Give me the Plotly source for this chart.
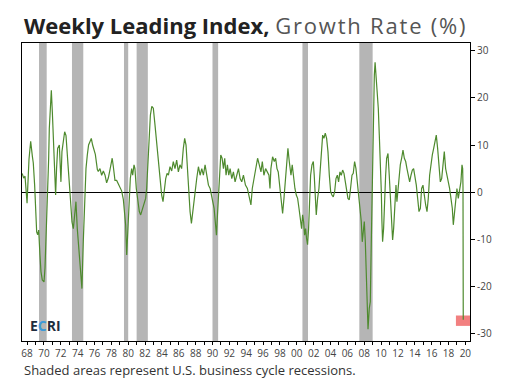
import plotly.graph_objects as go

# ---- data ----
years = [
    1967.92, 1968.1, 1968.26, 1968.4, 1968.5, 1968.73, 1968.93, 1969.13, 1969.24, 1969.4,
    1969.52, 1969.64, 1969.76, 1969.88, 1970.03, 1970.15, 1970.31, 1970.51, 1970.63, 1970.75,
    1970.9, 1971.06, 1971.14, 1971.3, 1971.38, 1971.5, 1971.62, 1971.77, 1971.89, 1972.0,
    1972.13, 1972.33, 1972.4, 1972.52, 1972.64, 1972.8, 1972.96, 1973.12, 1973.28, 1973.39,
    1973.59, 1973.71, 1973.83, 1973.99, 1974.18, 1974.3, 1974.46, 1974.62, 1974.78, 1974.94,
    1975.01, 1975.17, 1975.33, 1975.49, 1975.65, 1975.8, 1975.96, 1976.12, 1976.28, 1976.44,
    1976.6, 1976.84, 1976.95, 1977.15, 1977.35, 1977.55, 1977.75, 1977.94, 1978.14, 1978.34,
    1978.6, 1978.73, 1978.93, 1979.13, 1979.33, 1979.53, 1979.72, 1979.92, 1980.04, 1980.2,
    1980.32, 1980.44, 1980.6, 1980.75, 1980.91, 1981.03, 1981.19, 1981.3, 1981.46, 1981.58,
    1981.7, 1981.82, 1981.98, 1982.1, 1982.25, 1982.41, 1982.57, 1982.69, 1982.81, 1982.97,
    1983.13, 1983.3, 1983.48, 1983.68, 1983.88, 1984.08, 1984.32, 1984.47, 1984.63, 1984.79,
    1984.95, 1985.11, 1985.27, 1985.46, 1985.66, 1985.85, 1986.05, 1986.25, 1986.45, 1986.64,
    1986.84, 1987.04, 1987.2, 1987.36, 1987.52, 1987.68, 1987.84, 1988.0, 1988.15, 1988.31,
    1988.47, 1988.63, 1988.83, 1989.03, 1989.23, 1989.42, 1989.62, 1989.82, 1990.02, 1990.22,
    1990.41, 1990.53, 1990.69, 1990.85, 1990.97, 1991.09, 1991.2, 1991.32, 1991.48, 1991.64,
    1991.8, 1991.95, 1992.11, 1992.27, 1992.43, 1992.59, 1992.79, 1992.98, 1993.18, 1993.38,
    1993.58, 1993.78, 1993.97, 1994.17, 1994.41, 1994.64, 1994.8, 1994.94, 1995.06, 1995.22,
    1995.46, 1995.65, 1995.85, 1996.05, 1996.25, 1996.41, 1996.6, 1996.8, 1997.0, 1997.2,
    1997.32, 1997.43, 1997.63, 1997.83, 1997.99, 1998.15, 1998.3, 1998.5, 1998.66, 1998.82,
    1998.98, 1999.13, 1999.29, 1999.45, 1999.61, 1999.81, 1999.96, 2000.12, 2000.28, 2000.44,
    2000.6, 2000.76, 2000.91, 2001.07, 2001.19, 2001.31, 2001.43, 2001.55, 2001.66, 2001.78,
    2001.9, 2002.02, 2002.14, 2002.3, 2002.46, 2002.57, 2002.69, 2002.81, 2002.97, 2003.13,
    2003.29, 2003.45, 2003.57, 2003.72, 2003.88, 2004.04, 2004.2, 2004.36, 2004.52, 2004.67,
    2004.83, 2004.99, 2005.15, 2005.31, 2005.46, 2005.62, 2005.78, 2005.94, 2006.1, 2006.26,
    2006.41, 2006.57, 2006.73, 2006.89, 2007.05, 2007.2, 2007.36, 2007.52, 2007.68, 2007.84,
    2008.0, 2008.15, 2008.27, 2008.39, 2008.51, 2008.63, 2008.75, 2008.86, 2008.95, 2009.1,
    2009.22, 2009.34, 2009.46, 2009.58, 2009.7, 2009.79, 2009.93, 2010.05, 2010.17, 2010.29,
    2010.41, 2010.53, 2010.6, 2010.68, 2010.8, 2010.92, 2011.04, 2011.16, 2011.32, 2011.47,
    2011.63, 2011.75, 2011.87, 2011.99, 2012.11, 2012.27, 2012.38, 2012.5, 2012.62, 2012.78,
    2012.94, 2013.1, 2013.26, 2013.42, 2013.57, 2013.73, 2013.89, 2014.05, 2014.21, 2014.36,
    2014.52, 2014.68, 2014.84, 2015.0, 2015.16, 2015.31, 2015.47, 2015.63, 2015.79, 2015.95,
    2016.1, 2016.26, 2016.42, 2016.58, 2016.74, 2016.9, 2017.05, 2017.21, 2017.37, 2017.53,
    2017.69, 2017.84, 2018.0, 2018.16, 2018.32, 2018.48, 2018.63, 2018.79, 2018.95, 2019.07,
    2019.19, 2019.35, 2019.5, 2019.66, 2019.82, 2019.97, 2020.1, 2020.18, 2020.22, 2020.25,
]
growth = [
    4.0, 3.0, 3.4, 0.8, -2.3, 7.0, 10.8, 7.6, 6.2, 1.5,
    -4.8, -8.4, -9.0, -8.0, -13.3, -16.8, -18.6, -19.0, -16.0, -10.5,
    0.0, 7.0, 13.5, 17.8, 21.6, 17.0, 10.7, 3.6, -0.6, 5.0,
    9.3, 10.0, 5.0, 2.2, 8.6, 11.4, 12.8, 12.0, 8.6, 5.0,
    0.0, -4.2, -6.3, -7.7, -3.4, -2.0, -7.7, -11.9, -16.0, -19.0,
    -20.4, -10.5, -2.0, 5.0, 7.9, 10.0, 10.7, 11.4, 10.0, 9.0,
    8.0, 4.8, 4.4, 5.0, 3.6, 4.5, 3.6, 2.0, 3.0, 4.8,
    7.2, 5.5, 2.5, 2.5, 1.8, 1.0, 0.3, -1.5, -4.1, -7.0,
    -13.3, -7.7, 0.0, 2.9, 5.0, 3.6, 5.8, 5.0, 0.8, -1.3,
    -3.4, -4.1, -4.8, -4.1, -3.4, -2.7, -1.3, 0.8, 5.0, 12.1,
    16.3, 18.2, 17.8, 14.2, 10.0, 5.8, 1.5, -0.6, -2.0, 0.8,
    2.9, 4.0, 3.6, 5.4, 4.5, 6.5, 5.0, 6.8, 4.3, 5.8,
    5.0, 9.3, 11.4, 10.0, 5.0, 0.1, -4.1, -6.6, -4.1, -1.3,
    0.8, 2.9, 5.4, 3.6, 5.0, 3.6, 5.8, 3.6, 1.5, 0.8,
    -0.6, -2.0, -3.4, -6.2, -9.1, -4.8, -0.6, 3.6, 7.9, 7.2,
    5.0, 7.2, 3.6, 5.8, 3.6, 5.0, 2.9, 4.3, 2.2, 3.6,
    5.0, 2.9, 2.2, 3.6, 1.5, 0.8, -0.5, -2.0, -2.7, 0.8,
    3.6, 5.0, 7.2, 5.8, 4.3, 6.5, 3.6, 5.0, 4.3, 3.6,
    0.8, 5.0, 7.5, 6.5, 7.2, 5.0, 4.3, 0.8, -2.0, -4.5,
    -1.3, 2.2, 5.8, 9.3, 6.5, 3.6, 5.8, 2.9, 0.8, -0.6,
    -1.3, -3.4, -5.5, -7.7, -4.8, -6.2, -9.1, -7.7, -9.8, -11.1,
    -7.7, -1.3, 3.6, 5.8, 6.5, 3.6, -0.6, -4.8, -1.3, 0.8,
    5.0, 10.7, 12.1, 11.4, 12.5, 11.4, 8.6, 3.6, 0.1, -0.6,
    -1.0, 0.1, 2.9, 3.6, 2.2, 4.3, 3.6, 4.7, 4.0, 2.2,
    0.8, -1.3, -1.6, 1.5, 3.6, 4.0, 6.5, 5.0, 2.2, -0.6,
    -2.7, -6.2, -10.5, -7.7, -6.2, -10.5, -17.5, -24.6, -29.0, -24.6,
    -23.2, -10.5, 3.6, 17.8, 24.8, 27.5, 24.1, 22.0, 17.8, 12.1,
    7.2, 0.1, -6.2, -10.5, -7.7, -0.6, 3.6, 7.2, 8.2, 3.6,
    -2.0, -7.7, -10.1, -7.7, -3.4, 1.5, -2.0, 0.8, 3.6, 5.8,
    7.2, 8.9, 7.2, 6.5, 5.0, 3.6, 2.2, 3.6, 4.7, 5.0,
    3.6, 1.5, -1.3, -4.1, -3.4, 0.8, 1.5, -1.3, -2.7, -4.1,
    -1.3, 3.6, 6.5, 7.9, 9.3, 10.7, 12.1, 9.3, 5.0, 2.2,
    2.9, 5.8, 8.6, 5.0, 3.6, 2.2, 0.8, -1.3, -3.4, -6.9,
    -4.8, -0.6, 0.8, -1.3, 0.1, 2.2, 5.8, 5.0, 1.0, -27.0,
]

recession_start = [1969.92, 1973.83, 1980.0, 1981.5, 1990.5, 2001.17, 2007.92]
recession_end = [1970.83, 1975.17, 1980.5, 1982.83, 1991.17, 2001.83, 2009.5]

tick_years = list(range(1968, 2021))
tick_labels = [f"{y % 100:02d}" if y % 2 == 0 else "" for y in tick_years]

y_ticks = [30, 20, 10, 0, -10, -20, -30]
y_tick_labels = ["30", "20", "10", "0", "-10", "-20", "-30"]

latest_box_x = [2019.38, 2021.05]
latest_box_y = [-26.1, -28.3]

X_RANGE = [1967.9, 2021.05]
Y_RANGE = [-31.5, 31.6]

FONT = "Open Sans, DejaVu Sans, sans-serif"

fig = go.Figure()
fig.add_trace(go.Scatter(
    x=years, y=growth, mode="lines",
    line=dict(color="#4e8a2e", width=1.2),
    hoverinfo="skip", showlegend=False,
))

shapes = []
for s, e in zip(recession_start, recession_end):
    shapes.append(dict(type="rect", xref="x", yref="paper", x0=s, x1=e, y0=0, y1=1,
                       fillcolor="#b5b5b5", line=dict(width=0), layer="below"))
shapes.append(dict(type="rect", xref="x", yref="y",
                   x0=latest_box_x[0], x1=latest_box_x[1],
                   y0=latest_box_y[0], y1=latest_box_y[1],
                   fillcolor="#f28080", line=dict(width=0), layer="below"))

annotations = [
    dict(text="<b>Weekly Leading Index,</b> <span style='color:#555555;letter-spacing:1.8px'>Growth Rate (%)</span>",
         xref="paper", yref="paper", x=0, y=1, xanchor="left", yanchor="bottom",
         yshift=1, showarrow=False,
         font=dict(family=FONT, size=22, color="#222222")),
    dict(text="Shaded areas represent U.S. business cycle recessions.",
         xref="paper", yref="paper", x=0, y=0, xanchor="left", yanchor="top",
         yshift=-18, showarrow=False,
         font=dict(family=FONT, size=13, color="#333333")),
    dict(text="<b>E<span style='color:#3d9ad8'>C</span>RI</b>",
         xref="paper", yref="paper", x=0.014, y=0.015, xanchor="left", yanchor="bottom",
         showarrow=False,
         font=dict(family=FONT, size=14, color="#1f2d3d")),
]

# the page body adds an 8px offset, so the figure is sized to end at the window edge
fig.update_layout(
    width=498, height=376,
    margin=dict(l=14, r=36, t=35, b=43),
    paper_bgcolor="white", plot_bgcolor="white",
    shapes=shapes, annotations=annotations,
    xaxis=dict(
        range=X_RANGE, tickmode="array",
        tickvals=[y + 0.5 for y in tick_years], ticktext=tick_labels,
        ticks="outside", ticklen=3, tickcolor="#000", tickwidth=1,
        showline=True, linecolor="#000", linewidth=1, mirror=True,
        showgrid=False, zeroline=False,
        tickfont=dict(family=FONT, size=10, color="#444444"),
    ),
    yaxis=dict(
        range=Y_RANGE, side="right", tickmode="array",
        tickvals=y_ticks, ticktext=y_tick_labels,
        ticks="outside", ticklen=4, tickcolor="#000", tickwidth=1,
        showline=True, linecolor="#000", linewidth=1, mirror=True,
        showgrid=False, zeroline=True, zerolinecolor="#000", zerolinewidth=1,
        tickfont=dict(family=FONT, size=10, color="#444444"),
    ),
)

fig.write_html("out.html")
